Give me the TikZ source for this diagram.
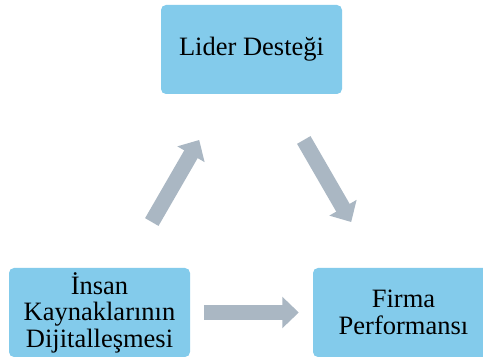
\documentclass[tikz,border=0pt]{standalone}
\usepackage{fontspec}
\setmainfont{Liberation Serif}
\usetikzlibrary{arrows.meta,calc}
\definecolor{boxblue}{RGB}{131,203,235}
\definecolor{arrowgray}{RGB}{170,183,195}
\tikzset{
  stepbox/.style={fill=boxblue, draw=none, rounded corners=5pt,
    minimum width=181pt, minimum height=89pt, inner sep=0pt,
    align=center, font=\fontsize{26.5}{26.5}\selectfont},
  blockarrow/.style={draw=arrowgray, line width=15.5pt,
    -{Triangle[length=16.5pt,width=30.5pt]}}
}
\begin{document}
\begin{tikzpicture}[x=1pt,y=-1pt]
  \useasboundingbox (0,0) rectangle (483,358);
  \clip (0,0) rectangle (483,358);
  \node[stepbox] (ld) at (251.5,49.5) {Lider Desteği};
  \node[stepbox] (ik) at (99.5,312.5) {İnsan\\Kaynaklarının\\Dijitalleşmesi};
  \node[stepbox] (fp) at (403.5,312.5) {Firma\\Performansı};
  \draw[blockarrow] ($(ik)!0.344!(ld)$) -- ($(ik)!0.656!(ld)$);
  \draw[blockarrow] ($(ld)!0.344!(fp)$) -- ($(ld)!0.656!(fp)$);
  \draw[blockarrow] ([xshift=13.7pt]ik.east) -- ([xshift=-14pt]fp.west);
\end{tikzpicture}
\end{document}
